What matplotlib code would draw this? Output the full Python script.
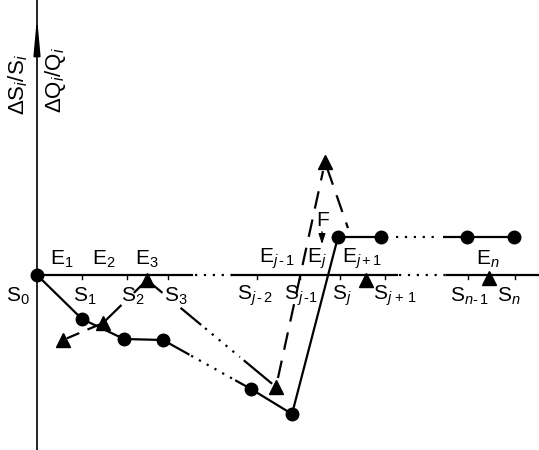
import matplotlib
matplotlib.use("Agg")
import matplotlib.pyplot as plt
import numpy as np

plt.rcParams['font.family'] = ['Liberation Sans', 'DejaVu Sans']
plt.rcParams['mathtext.fontset'] = 'custom'
plt.rcParams['mathtext.rm'] = 'Liberation Sans'
plt.rcParams['mathtext.it'] = 'Liberation Sans:italic'

# schematic drawn in picture units (x right, y down)
circ_x = [37, 82, 124, 163, 251, 292, 338, 381, 467, 514]
circ_y = [275, 319, 339, 340, 389, 414, 237, 237, 237, 237]

tri_x = [63, 103, 147, 276, 325, 366, 489]
tri_y = [340, 323, 280, 387, 162, 280, 278]

axis_y = 275
tick_x = [82, 127, 168, 257, 300, 340, 385, 468, 515]

s_labels = ['S$_0$', 'S$_1$', 'S$_2$', 'S$_3$', 'S$_{j\\,\\text{-}\\,2}$', 'S$_{j\\,\\text{-}1}$',
            'S$_j$', 'S$_{j\\,+\\,1}$', 'S$_{n\\text{-}\\,1}$', 'S$_n$']
s_label_x = [18, 85, 133, 176, 255, 301, 342, 395, 469, 509]
e_labels = ['E$_1$', 'E$_2$', 'E$_3$', 'E$_{j\\,\\text{-}\\,1}$', 'E$_j$', 'E$_{j+1}$', 'E$_n$']
e_label_x = [62, 104, 147, 277, 317, 362, 488]

fig = plt.figure(figsize=(5.39, 4.5), dpi=100)
ax = fig.add_axes([0, 0, 1, 1])
ax.set_xlim(0, 539)
ax.set_ylim(450, 0)
ax.axis('off')

lw = 1.6


def seg(xs, ys, i, t0, t1, ls='-'):
    x0, y0, x1, y1 = xs[i], ys[i], xs[i + 1], ys[i + 1]
    ax.plot([x0 + (x1 - x0) * t0, x0 + (x1 - x0) * t1],
            [y0 + (y1 - y0) * t0, y0 + (y1 - y0) * t1],
            color='black', lw=lw, ls=ls, solid_capstyle='butt')


dots = (0, (1, 3))
dash = (0, (6, 4))

# horizontal axis with dotted gaps
for a, b, ls in [(37, 192, '-'), (195, 232, dots), (232, 397, '-'),
                 (399, 447, dots), (447, 539, '-')]:
    ax.plot([a, b], [axis_y, axis_y], color='black', lw=lw, ls=ls)
for t in tick_x:
    ax.plot([t, t], [axis_y, axis_y + 4], color='black', lw=1)

# vertical axis with arrow
ax.plot([37, 37], [450, 0], color='black', lw=1.2)
ax.annotate('', xy=(37, 14), xytext=(37, 46),
            arrowprops=dict(arrowstyle='-|>,head_length=2.2,head_width=0.2',
                            color='black', lw=1.2, mutation_scale=10))

ax.text(18, 84, '$\\Delta$S$_i$/S$_i$', rotation=90, ha='center', va='center', fontsize=16)
ax.text(56, 80, '$\\Delta$Q$_i$/Q$_i$', rotation=90, ha='center', va='center', fontsize=16)

# circle series
for i in [0, 1, 2, 4, 5, 6, 8]:
    seg(circ_x, circ_y, i, 0, 1)
seg(circ_x, circ_y, 3, 0, 0.3)
seg(circ_x, circ_y, 3, 0.32, 0.8, dots)
seg(circ_x, circ_y, 3, 0.82, 1)
seg(circ_x, circ_y, 7, 0.17, 0.66, dots)
seg(circ_x, circ_y, 7, 0.72, 1)
ax.plot(circ_x, circ_y, 'o', color='black', ms=9, ls='none')

# triangle series
seg(tri_x, tri_y, 0, 0.1, 1, dash)
seg(tri_x, tri_y, 1, 0, 0.42)
seg(tri_x, tri_y, 1, 0.7, 1)
seg(tri_x, tri_y, 2, 0.04, 0.12)
seg(tri_x, tri_y, 2, 0.26, 0.42)
seg(tri_x, tri_y, 2, 0.45, 0.72, dots)
seg(tri_x, tri_y, 2, 0.75, 0.97)
seg(tri_x, tri_y, 3, 0.04, 0.96, (0, (8, 5)))
seg(tri_x, tri_y, 4, 0.05, 0.56, (0, (8, 5)))
ax.plot(tri_x, tri_y, '^', color='black', ms=9.5, ls='none')

# labels
for x, lab in zip(s_label_x, s_labels):
    ax.text(x, 296, lab, ha='center', va='center', fontsize=15)
for x, lab in zip(e_label_x, e_labels):
    ax.text(x, 259, lab, ha='center', va='center', fontsize=15)

ax.text(323, 221, 'F', ha='center', va='center', fontsize=15)
ax.annotate('', xy=(322, 247), xytext=(322, 229),
            arrowprops=dict(arrowstyle='-|>,head_length=0.6,head_width=0.2',
                            color='black', lw=1, mutation_scale=10))

fig.savefig('out.png', dpi=100)
